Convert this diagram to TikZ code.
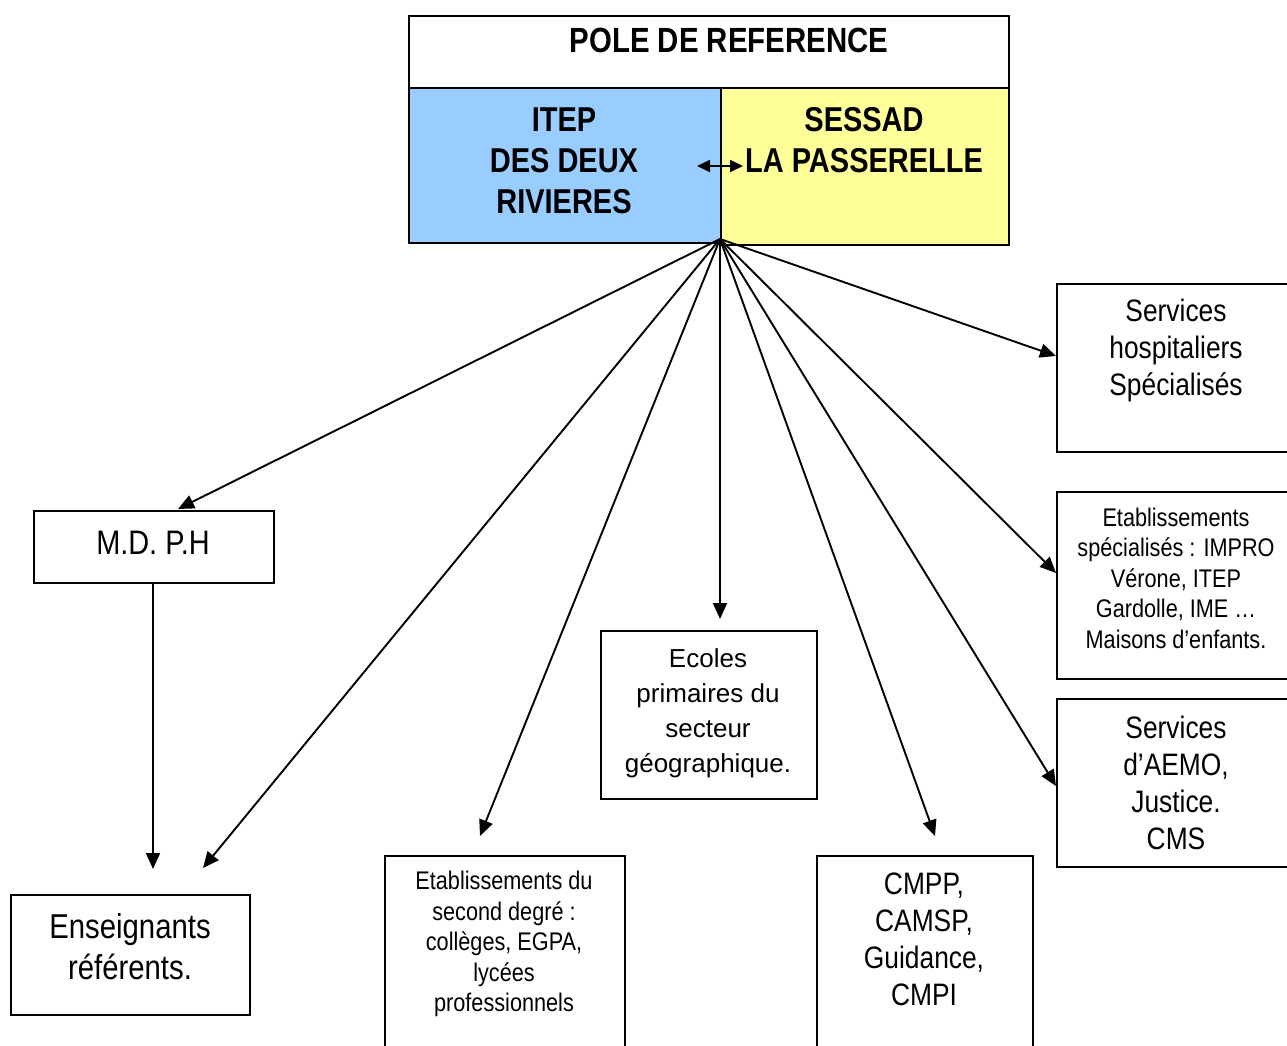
\documentclass[tikz,border=0pt]{standalone}
\usepackage{fontspec}
\setmainfont{Liberation Sans}[FakeStretch=0.85]
\newfontfamily\titlefont{Liberation Sans}[FakeStretch=0.84]
\newfontfamily\ecolefont{Liberation Sans}
\usetikzlibrary{arrows.meta}
\definecolor{itepblue}{HTML}{99CCFF}
\definecolor{sessadyellow}{HTML}{FFFF99}
\newcommand{\fsz}[2]{\fontsize{#1}{#2}\selectfont}

\begin{document}
\begin{tikzpicture}[x=1pt, y=-1pt,
   box/.style={draw, line width=1.8pt, anchor=north west, inner sep=0pt},
   txt/.style={align=center, inner sep=0pt},
   link/.style={line width=1.9pt, -{Triangle[length=16pt,width=14pt]}},]
   \useasboundingbox (0,0) rectangle (1287,1046);

   % pole de reference
   \node[box, fill=itepblue, minimum width=312pt, minimum height=155pt] (itep) at (408,87) {};
   \node[box, fill=sessadyellow, minimum width=288pt, minimum height=157pt] (sessad) at (720,87) {};
   \node[box, minimum width=600pt, minimum height=72pt] (pole) at (408,15) {};
   \node[txt, font=\titlefont\bfseries\fsz{35}{41}] (pole-t) at (729,40) {POLE DE REFERENCE};
   \node[txt, font=\titlefont\bfseries\fsz{34.5}{41}] (itep-t) at (564,161) {ITEP\\DES DEUX\\RIVIERES};
   \node[txt, font=\titlefont\bfseries\fsz{34.5}{41}] (sessad-t) at (864,140) {SESSAD\\LA PASSERELLE};
   \coordinate (dbl-l) at (697,166);
   \coordinate (dbl-r) at (743,166);
   \draw[line width=1.9pt, {Triangle[length=13pt,width=12pt]}-{Triangle[length=13pt,width=12pt]}] (dbl-l) -- (dbl-r);
   \coordinate (hub) at (720,239);

   % partenaires
   \node[box, minimum width=240pt, minimum height=72pt] (mdph) at (33,510) {};
   \node[txt, font=\fsz{34}{41}] (mdph-t) at (153,543) {M.D. P.H};
   \node[box, minimum width=239pt, minimum height=120pt] (ens) at (10,894) {};
   \node[txt, font=\fsz{34.5}{41}] (ens-t) at (130,947) {Enseignants\\référents.};
   \node[box, minimum width=240pt, minimum height=210pt] (sec) at (384,855) {};
   \node[txt, font=\fsz{25.5}{30.5}] (sec-t) at (504,944) {Etablissements du\\second degré :\\collèges, EGPA,\\lycées\\professionnels};
   \node[box, minimum width=216pt, minimum height=168pt] (eco) at (600,630) {};
   \node[txt, font=\ecolefont\fsz{26}{35}] (eco-t) at (708,713) {Ecoles\\primaires du\\secteur\\géographique.};
   \node[box, minimum width=216pt, minimum height=210pt] (cmpp) at (816,855) {};
   \node[txt, font=\fsz{31}{37}] (cmpp-t) at (924,939) {CMPP,\\CAMSP,\\Guidance,\\CMPI};
   \node[box, minimum width=250pt, minimum height=168pt] (hosp) at (1056,283) {};
   \node[txt, font=\fsz{31}{37}] (hosp-t) at (1176,350) {Services\\hospitaliers\\Spécialisés};
   \node[box, minimum width=250pt, minimum height=187pt] (spec) at (1056,491) {};
   \node[txt, font=\fsz{25.5}{30.5}] (spec-t) at (1176,578) {Etablissements\\spécialisés : IMPRO\\Vérone, ITEP\\Gardolle, IME …\\Maisons d’enfants.};
   \node[box, minimum width=250pt, minimum height=168pt] (aemo) at (1056,698) {};
   \node[txt, font=\fsz{31}{37}] (aemo-t) at (1176,783) {Services\\d’AEMO,\\Justice.\\CMS};

   % fleches
   \coordinate (mdph-in) at (178,509);
   \coordinate (ens-in) at (203,868);
   \coordinate (ens-top) at (153,869);
   \coordinate (sec-in) at (480,836);
   \coordinate (eco-in) at (720,619);
   \coordinate (cmpp-in) at (935,836);
   \coordinate (aemo-in) at (1056,786);
   \coordinate (spec-in) at (1056,573);
   \coordinate (hosp-in) at (1056,356);
   \draw[link] (hub) -- (mdph-in);
   \draw[link] (hub) -- (ens-in);
   \draw[link] (hub) -- (sec-in);
   \draw[link] (hub) -- (eco-in);
   \draw[link] (hub) -- (cmpp-in);
   \draw[link] (hub) -- (aemo-in);
   \draw[link] (hub) -- (spec-in);
   \draw[link] (hub) -- (hosp-in);
   \draw[link] (mdph.south -| ens-top) -- (ens-top);
\end{tikzpicture}
\end{document}
